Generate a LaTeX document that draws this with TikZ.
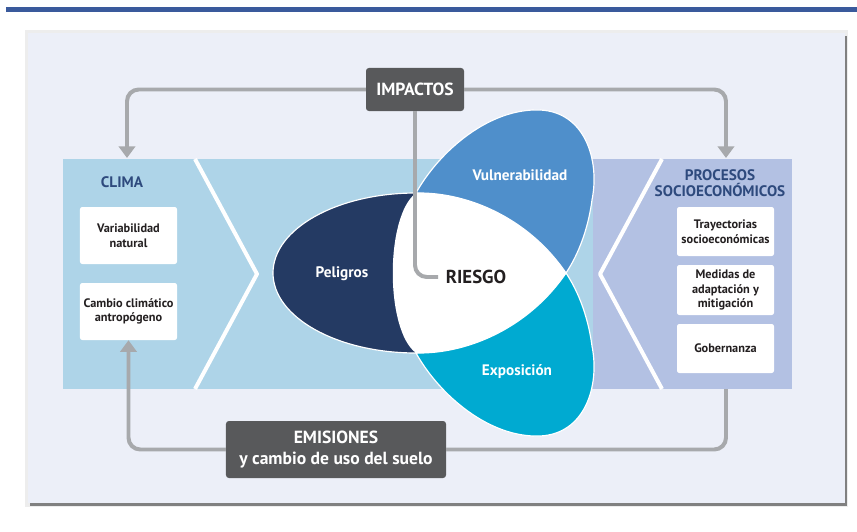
\documentclass[tikz,border=0pt]{standalone}
\usepackage{fontspec}
\setmainfont{PT Sans}
\usetikzlibrary{arrows.meta}

\definecolor{barblue}{HTML}{3A5A9C}
\definecolor{panelbg}{HTML}{ECEFF8}
\definecolor{climaband}{HTML}{AED4E8}
\definecolor{socioband}{HTML}{B3C1E3}
\definecolor{peligrosc}{HTML}{243A63}
\definecolor{vulc}{HTML}{4F8FCB}
\definecolor{expoc}{HTML}{00AAD1}
\definecolor{boxgray}{HTML}{58595B}
\definecolor{linegray}{HTML}{A7A9AC}
\definecolor{headblue}{HTML}{2E4A7D}
\definecolor{inktext}{HTML}{231F20}

\begin{document}
\begin{tikzpicture}[x=0.03cm, y=-0.03cm,
    link/.style={draw=linegray, line width=3.4pt, rounded corners=10pt},
    tip/.style={-{Triangle[length=10pt,width=14pt]}},
    darkbox/.style={fill=boxgray, rounded corners=2.5pt, text=white, align=center,
        font=\bfseries\fontsize{15}{18.5}\selectfont, inner sep=0pt},
    whitebox/.style={fill=white, rounded corners=2pt, text=inktext, align=center,
        font=\bfseries\fontsize{10.5}{12.4}\selectfont, inner sep=0pt,
        minimum width=2.91cm},
    heading/.style={text=headblue, align=center, font=\bfseries\fontsize{13}{13.5}\selectfont},
    petal/.style={draw=white, line width=1pt},
    petaltext/.style={text=white, font=\bfseries\fontsize{13}{15}\selectfont}]
		%%%%% START %%%%%
		
		\useasboundingbox (0,0) rectangle (857,532);
		
		% top rule and panel
		\fill[barblue] (6,7) rectangle (857,12);
		\fill[black!7] (25,30) rectangle (848,507);
		\fill[black!50] (30,36) rectangle (847,506);
		\fill[panelbg] (28,33) rectangle (845,503);
		
		% side bands
		\fill[climaband] (63,159) rectangle (593,389);
		\fill[socioband] (593,159) rectangle (792,389);
		\draw[white, line width=3.4pt, line join=round] (195,159) -- (257,274) -- (195,389);
		\draw[white, line width=3.4pt, line join=round] (662,159) -- (600,274) -- (662,389);
		
		% petals
		\draw[petal, fill=peligrosc] (416,193) arc (90:270:143 and -80) -- cycle;
		\draw[petal, fill=vulc] (416,193) .. controls (440,150) and (490,108) .. (540,110)
		    .. controls (585,112) and (600,160) .. (592,200)
		    .. controls (588,230) and (578,255) .. (566,273)
		    .. controls (530,220) and (470,192) .. (416,193) -- cycle;
		\draw[petal, fill=expoc] (416,353) .. controls (440,396) and (490,438) .. (540,436)
		    .. controls (585,434) and (600,386) .. (592,346)
		    .. controls (588,316) and (578,291) .. (566,273)
		    .. controls (530,326) and (470,354) .. (416,353) -- cycle;
		\fill[white] (416,193) .. controls (470,192) and (530,220) .. (566,273)
		    .. controls (530,326) and (470,354) .. (416,353)
		    .. controls (385,330) and (385,216) .. (416,193) -- cycle;
		
		\node[petaltext] (peligros) at (342,274) {Peligros};
		\node[petaltext] (vul) at (520,175) {Vulnerabilidad};
		\node[petaltext] (expo) at (517,372) {Exposición};
		\node[text=inktext, font=\bfseries\fontsize{16}{18}\selectfont] (riesgo) at (476,277) {RIESGO};
		
		% climate side
		\node[heading] (clima) at (122,182) {CLIMA};
		\node[whitebox, minimum height=1.71cm] (variab) at (128.5,235.5) {Variabilidad\\natural};
		\node[whitebox, minimum height=1.71cm] (cambio) at (128.5,311.5) {Cambio climático\\antropógeno};
		
		% socio-economic side
		\node[heading] (procesos) at (720,183) {PROCESOS\\SOCIOECONÓMICOS};
		\node[whitebox, minimum height=1.47cm] (trayect) at (725.5,231.5) {Trayectorias\\socioeconómicas};
		\node[whitebox, minimum height=1.50cm] (medidas) at (725.5,290) {Medidas de\\adaptación y\\mitigación};
		\node[whitebox, minimum height=1.47cm] (gober) at (725.5,348.5) {Gobernanza};
		
		% impacts and emissions
		\node[darkbox, minimum width=2.94cm, minimum height=1.29cm] (imp) at (415,89.5) {IMPACTOS};
		\node[darkbox, minimum width=6.6cm, minimum height=1.71cm] (emi) at (336,449.5) {EMISIONES\\y cambio de uso del suelo};
		
		\coordinate (climatop) at (127,158);
		\coordinate (sociotop) at (726,158);
		\coordinate (sociobot) at (726,389);
		
		\draw[link, tip] (imp.west) -| (climatop);
		\draw[link, tip] (imp.east) -| (sociotop);
		\draw[link, shorten >=3pt] (imp.south) |- (riesgo.west);
		\draw[link, tip] (emi.west) -| (cambio.south);
		\draw[link] (emi.east) -| (sociobot);
		
		%%%%% END %%%%%
	\end{tikzpicture}
\end{document}
